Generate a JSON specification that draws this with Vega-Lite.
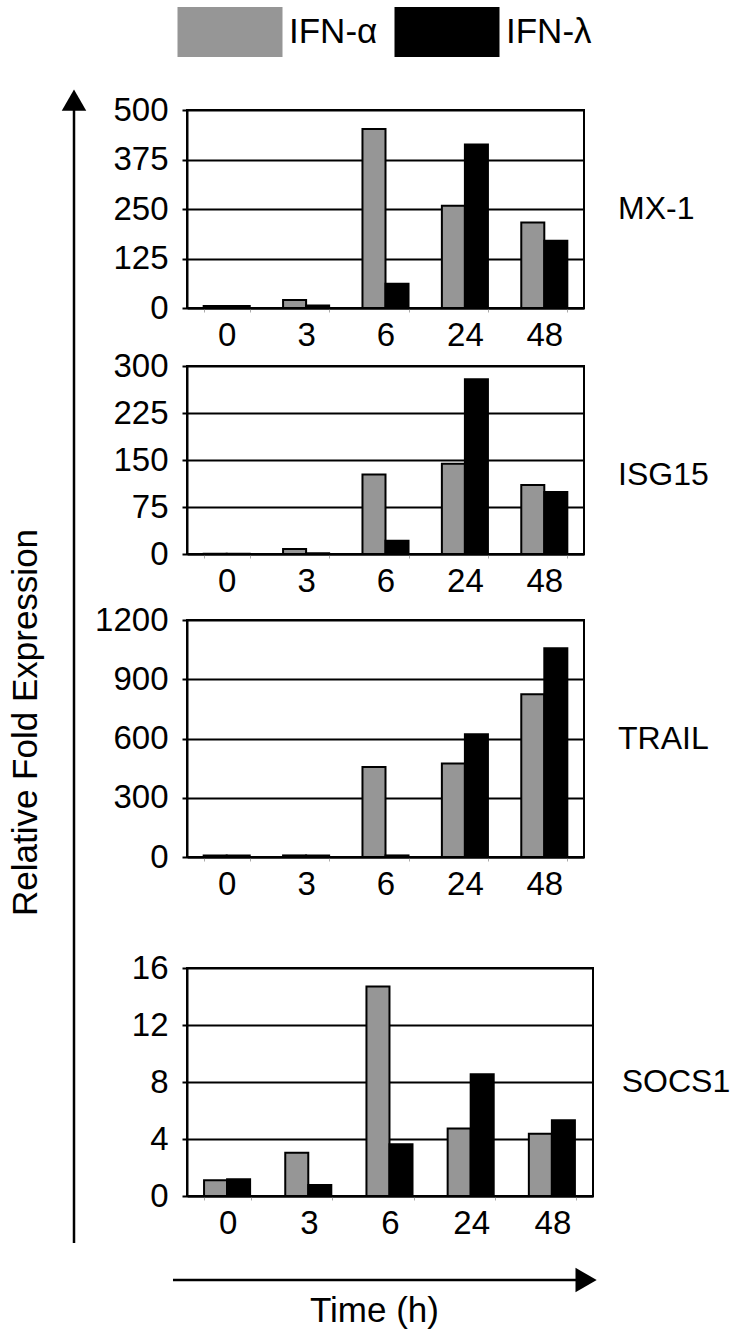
{
  "$schema": "https://vega.github.io/schema/vega-lite/v6.json",
  "background": "white",
  "padding": {"left": 8, "top": -21, "right": 0, "bottom": 0},
  "datasets": {
    "mx1": [
      {"time": "0", "ifn": "IFN-α", "value": 5}, {"time": "0", "ifn": "IFN-λ", "value": 5},
      {"time": "3", "ifn": "IFN-α", "value": 20}, {"time": "3", "ifn": "IFN-λ", "value": 6},
      {"time": "6", "ifn": "IFN-α", "value": 452}, {"time": "6", "ifn": "IFN-λ", "value": 61},
      {"time": "24", "ifn": "IFN-α", "value": 258}, {"time": "24", "ifn": "IFN-λ", "value": 413},
      {"time": "48", "ifn": "IFN-α", "value": 216}, {"time": "48", "ifn": "IFN-λ", "value": 170}
    ],
    "isg15": [
      {"time": "0", "ifn": "IFN-α", "value": 0.5}, {"time": "0", "ifn": "IFN-λ", "value": 0.5},
      {"time": "3", "ifn": "IFN-α", "value": 8}, {"time": "3", "ifn": "IFN-λ", "value": 1},
      {"time": "6", "ifn": "IFN-α", "value": 127}, {"time": "6", "ifn": "IFN-λ", "value": 21},
      {"time": "24", "ifn": "IFN-α", "value": 144}, {"time": "24", "ifn": "IFN-λ", "value": 279},
      {"time": "48", "ifn": "IFN-α", "value": 110}, {"time": "48", "ifn": "IFN-λ", "value": 99}
    ],
    "trail": [
      {"time": "0", "ifn": "IFN-α", "value": 8}, {"time": "0", "ifn": "IFN-λ", "value": 8},
      {"time": "3", "ifn": "IFN-α", "value": 8}, {"time": "3", "ifn": "IFN-λ", "value": 8},
      {"time": "6", "ifn": "IFN-α", "value": 456}, {"time": "6", "ifn": "IFN-λ", "value": 8},
      {"time": "24", "ifn": "IFN-α", "value": 473}, {"time": "24", "ifn": "IFN-λ", "value": 622},
      {"time": "48", "ifn": "IFN-α", "value": 824}, {"time": "48", "ifn": "IFN-λ", "value": 1057}
    ],
    "socs1": [
      {"time": "0", "ifn": "IFN-α", "value": 1.1}, {"time": "0", "ifn": "IFN-λ", "value": 1.17},
      {"time": "3", "ifn": "IFN-α", "value": 3.04}, {"time": "3", "ifn": "IFN-λ", "value": 0.77},
      {"time": "6", "ifn": "IFN-α", "value": 14.7}, {"time": "6", "ifn": "IFN-λ", "value": 3.63},
      {"time": "24", "ifn": "IFN-α", "value": 4.73}, {"time": "24", "ifn": "IFN-λ", "value": 8.55},
      {"time": "48", "ifn": "IFN-α", "value": 4.36}, {"time": "48", "ifn": "IFN-λ", "value": 5.32}
    ]
  },
  "config": {
    "font": "Liberation Sans",
    "view": {"stroke": "black", "strokeWidth": 2},
    "axis": {
      "labelFont": "Liberation Sans", "labelFontSize": 33, "labelColor": "black",
      "titleFont": "Liberation Sans", "titleFontSize": 35, "titleFontWeight": "normal", "titleColor": "black",
      "domainColor": "black", "domainWidth": 2, "tickColor": "black"
    },
    "axisX": {"labelAngle": 0, "tickBand": "extent", "tickSize": 4, "tickColor": "#aaaaaa", "tickWidth": 1, "labelPadding": 7, "grid": false},
    "axisY": {"tickSize": 5, "tickWidth": 2, "labelPadding": 14, "grid": true, "gridColor": "black", "gridWidth": 2, "gridOpacity": 1, "format": "d"},
    "title": {"font": "Liberation Sans", "fontSize": 32, "fontWeight": "normal", "color": "black"}
  },
  "spacing": 6,
  "hconcat": [
    {
      "width": 10,
      "height": 1133,
      "view": {"stroke": null},
      "data": {"values": [{"arrow": "expression"}]},
      "encoding": {
        "x": {"datum": 0, "type": "quantitative", "scale": {"domain": [0, 1]}, "axis": null}
      },
      "layer": [
        {
          "mark": {"type": "rule", "stroke": "black", "strokeWidth": 2.5},
          "encoding": {
            "y": {"datum": 0, "type": "quantitative", "scale": {"domain": [0, 1], "nice": false},
              "axis": {"domain": false, "labels": false, "ticks": false, "grid": false,
                "title": "Relative Fold Expression", "titlePadding": 31, "titleY": 612, "minExtent": 0, "maxExtent": 0}},
            "y2": {"datum": 1.0088}
          }
        },
        {
          "mark": {"type": "point", "shape": "triangle-up", "filled": true, "size": 600, "color": "black", "opacity": 1},
          "encoding": {
            "y": {"datum": 1.0088, "type": "quantitative"}
          }
        }
      ]
    },
    {
      "spacing": -4,
      "vconcat": [
        {
          "width": 397, "height": 198,
          "data": {"name": "mx1"},
          "title": {"text": "MX-1", "orient": "right", "angle": 0, "align": "right", "baseline": "middle", "anchor": "middle", "offset": 34},
          "mark": {"type": "bar", "stroke": "black", "strokeWidth": 2},
          "encoding": {
            "x": {"field": "time", "type": "ordinal", "sort": ["0", "3", "6", "24", "48"], "scale": {"paddingInner": 0.42, "paddingOuter": 0.21}, "axis": {"title": null}},
            "xOffset": {"field": "ifn", "type": "nominal", "sort": ["IFN-α", "IFN-λ"]},
            "y": {"field": "value", "type": "quantitative", "scale": {"domain": [0, 500]}, "axis": {"values": [0, 125, 250, 375, 500], "title": null}},
            "color": {"field": "ifn", "type": "nominal", "scale": {"domain": ["IFN-α", "IFN-λ"], "range": ["#969696", "#000000"]},
              "legend": {"orient": "none", "legendX": 103, "legendY": -131, "direction": "horizontal", "title": null,
                "symbolType": "M-1,-0.476H1V0.476H-1Z", "symbolSize": 11025, "symbolStrokeWidth": 1, "symbolStrokeColor": "#cccccc",
                "labelFont": "Liberation Sans", "labelFontSize": 35, "labelColor": "black", "labelOffset": 6, "columnPadding": 14, "padding": 0,
                "encode": {"symbols": {"update": {"fill": {"signal": "datum.value === 'IFN-α' ? '#808080' : '#000000'"}}}}}}
          }
        },
        {
          "width": 397, "height": 188,
          "data": {"name": "isg15"},
          "title": {"text": "ISG15", "orient": "right", "angle": 0, "align": "right", "baseline": "middle", "anchor": "middle", "offset": 34, "dy": 15},
          "mark": {"type": "bar", "stroke": "black", "strokeWidth": 2},
          "encoding": {
            "x": {"field": "time", "type": "ordinal", "sort": ["0", "3", "6", "24", "48"], "scale": {"paddingInner": 0.42, "paddingOuter": 0.21}, "axis": {"title": " ", "titleFontSize": 1, "titlePadding": 7}},
            "xOffset": {"field": "ifn", "type": "nominal", "sort": ["IFN-α", "IFN-λ"]},
            "y": {"field": "value", "type": "quantitative", "scale": {"domain": [0, 300]}, "axis": {"values": [0, 75, 150, 225, 300], "title": null}},
            "color": {"field": "ifn", "type": "nominal", "scale": {"domain": ["IFN-α", "IFN-λ"], "range": ["#969696", "#000000"]}}
          }
        },
        {
          "width": 397, "height": 237,
          "data": {"name": "trail"},
          "title": {"text": "TRAIL", "orient": "right", "angle": 0, "align": "right", "baseline": "middle", "anchor": "middle", "offset": 34},
          "mark": {"type": "bar", "stroke": "black", "strokeWidth": 2},
          "encoding": {
            "x": {"field": "time", "type": "ordinal", "sort": ["0", "3", "6", "24", "48"], "scale": {"paddingInner": 0.42, "paddingOuter": 0.21}, "axis": {"title": " ", "titleFontSize": 1, "titlePadding": 52}},
            "xOffset": {"field": "ifn", "type": "nominal", "sort": ["IFN-α", "IFN-λ"]},
            "y": {"field": "value", "type": "quantitative", "scale": {"domain": [0, 1200]}, "axis": {"values": [0, 300, 600, 900, 1200], "title": null}},
            "color": {"field": "ifn", "type": "nominal", "scale": {"domain": ["IFN-α", "IFN-λ"], "range": ["#969696", "#000000"]}}
          }
        },
        {
          "width": 406, "height": 228,
          "title": {"text": "SOCS1", "orient": "right", "angle": 0, "align": "right", "baseline": "middle", "anchor": "middle", "offset": 25},
          "resolve": {"scale": {"x": "independent"}, "axis": {"x": "independent"}},
          "layer": [
            {
              "data": {"name": "socs1"},
              "mark": {"type": "bar", "stroke": "black", "strokeWidth": 2},
              "encoding": {
                "x": {"field": "time", "type": "ordinal", "sort": ["0", "3", "6", "24", "48"], "scale": {"paddingInner": 0.42, "paddingOuter": 0.21},
                  "axis": {"title": "Time (h)", "titlePadding": 53, "titleX": 187, "titleAlign": "center"}},
                "xOffset": {"field": "ifn", "type": "nominal", "sort": ["IFN-α", "IFN-λ"]},
                "y": {"field": "value", "type": "quantitative", "scale": {"domain": [0, 16]}, "axis": {"values": [0, 4, 8, 12, 16], "title": null}},
                "color": {"field": "ifn", "type": "nominal", "scale": {"domain": ["IFN-α", "IFN-λ"], "range": ["#969696", "#000000"]}}
              }
            },
            {
              "data": {"values": [{"arrow": "time"}]},
              "mark": {"type": "rule", "stroke": "black", "strokeWidth": 2.5},
              "encoding": {
                "x": {"datum": -0.0345, "type": "quantitative", "scale": {"domain": [0, 1], "nice": false, "zero": false}, "axis": null},
                "x2": {"datum": 0.983},
                "y": {"datum": -5.9, "type": "quantitative", "scale": {"domain": [0, 16]}}
              }
            },
            {
              "data": {"values": [{"arrow": "time"}]},
              "mark": {"type": "point", "shape": "triangle-right", "filled": true, "size": 600, "color": "black", "opacity": 1},
              "encoding": {
                "x": {"datum": 0.983, "type": "quantitative", "scale": {"domain": [0, 1], "nice": false, "zero": false}, "axis": null},
                "y": {"datum": -5.9, "type": "quantitative", "scale": {"domain": [0, 16]}}
              }
            }
          ]
        }
      ]
    }
  ]
}
